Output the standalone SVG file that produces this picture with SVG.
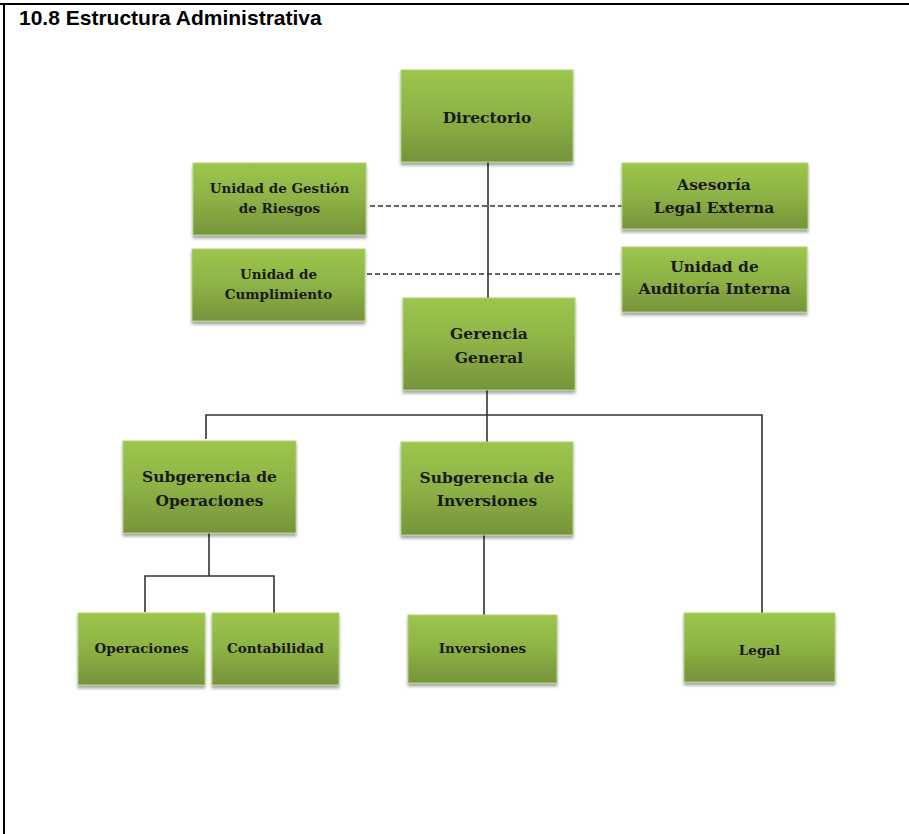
<svg xmlns="http://www.w3.org/2000/svg" width="909" height="834" viewBox="0 0 909 834">
<defs>
<linearGradient id="g" x1="0" y1="0" x2="0" y2="1">
<stop offset="0" stop-color="#9dc64c"/>
<stop offset="0.5" stop-color="#8db245"/>
<stop offset="1" stop-color="#76933b"/>
</linearGradient>
<filter id="sh" x="-10%" y="-10%" width="120%" height="130%">
<feDropShadow dx="0" dy="3" stdDeviation="1.6" flood-color="#000" flood-opacity="0.35"/>
</filter>
</defs>
<style>
.box{fill:url(#g);stroke:#b2d07c;stroke-width:1;filter:url(#sh)}
.t{font-family:"DejaVu Serif",serif;font-weight:bold;fill:#1a1a1a;text-anchor:middle}
.l{font-size:15.5px}
.s{font-size:13.5px}
.c{fill:none;stroke:#333;stroke-width:1.6}
.d{fill:none;stroke:#333;stroke-width:1.5;stroke-dasharray:5 3}
.title{font-family:"Liberation Sans",Arial,sans-serif;font-weight:bold;font-size:21px;fill:#000}
</style>
<rect width="909" height="834" fill="#fff"/>
<line x1="0" y1="4" x2="909" y2="4" stroke="#000" stroke-width="2"/>
<line x1="4" y1="4" x2="4" y2="834" stroke="#000" stroke-width="2"/>
<text class="title" x="19" y="25">10.8 Estructura Administrativa</text>

<g id="connectors">
<line class="c" x1="488" y1="162" x2="488" y2="298"/>
<line class="d" x1="370" y1="206" x2="622" y2="206"/>
<line class="d" x1="367" y1="274" x2="622" y2="274"/>
<line class="c" x1="487" y1="390" x2="487" y2="442"/>
<polyline class="c" points="206,439 206,415 762,415 762,613"/>
<line class="c" x1="209" y1="533" x2="209" y2="576"/>
<polyline class="c" points="145,612 145,576 274,576 274,613"/>
<line class="c" x1="484" y1="535" x2="484" y2="615"/>
</g>

<g id="directorio">
<rect class="box" x="401" y="70" width="172" height="92"/>
<text class="t l" x="487" y="123">Directorio</text>
</g>
<g id="gestion-riesgos">
<rect class="box" x="193" y="163" width="173" height="72"/>
<text class="t s" x="279.5" y="193">Unidad de Gestión</text>
<text class="t s" x="279.5" y="213">de Riesgos</text>
</g>
<g id="cumplimiento">
<rect class="box" x="192" y="249" width="173" height="72"/>
<text class="t s" x="278.5" y="279">Unidad de</text>
<text class="t s" x="278.5" y="299">Cumplimiento</text>
</g>
<g id="asesoria">
<rect class="box" x="622" y="163" width="186" height="66"/>
<text class="t l" x="714" y="190">Asesoría</text>
<text class="t l" x="714" y="213">Legal Externa</text>
</g>
<g id="auditoria">
<rect class="box" x="622" y="247" width="185" height="65"/>
<text class="t l" x="714.5" y="272">Unidad de</text>
<text class="t l" x="714.5" y="294">Auditoría Interna</text>
</g>
<g id="gerencia-general">
<rect class="box" x="403" y="298" width="172" height="92"/>
<text class="t l" x="489" y="339">Gerencia</text>
<text class="t l" x="489" y="363">General</text>
</g>
<g id="subgerencia-operaciones">
<rect class="box" x="123" y="441" width="173" height="92"/>
<text class="t l" x="209.5" y="482">Subgerencia de</text>
<text class="t l" x="209.5" y="506">Operaciones</text>
</g>
<g id="subgerencia-inversiones">
<rect class="box" x="401" y="442" width="172" height="93"/>
<text class="t l" x="487" y="483">Subgerencia de</text>
<text class="t l" x="487" y="506">Inversiones</text>
</g>
<g id="operaciones">
<rect class="box" x="78" y="613" width="127" height="72"/>
<text class="t s" x="141.5" y="653">Operaciones</text>
</g>
<g id="contabilidad">
<rect class="box" x="212" y="613" width="127" height="72"/>
<text class="t s" x="275.5" y="653">Contabilidad</text>
</g>
<g id="inversiones">
<rect class="box" x="408" y="615" width="149" height="68"/>
<text class="t s" x="482.5" y="653">Inversiones</text>
</g>
<g id="legal">
<rect class="box" x="684" y="613" width="151" height="69"/>
<text class="t s" x="759.5" y="655">Legal</text>
</g>
</svg>
